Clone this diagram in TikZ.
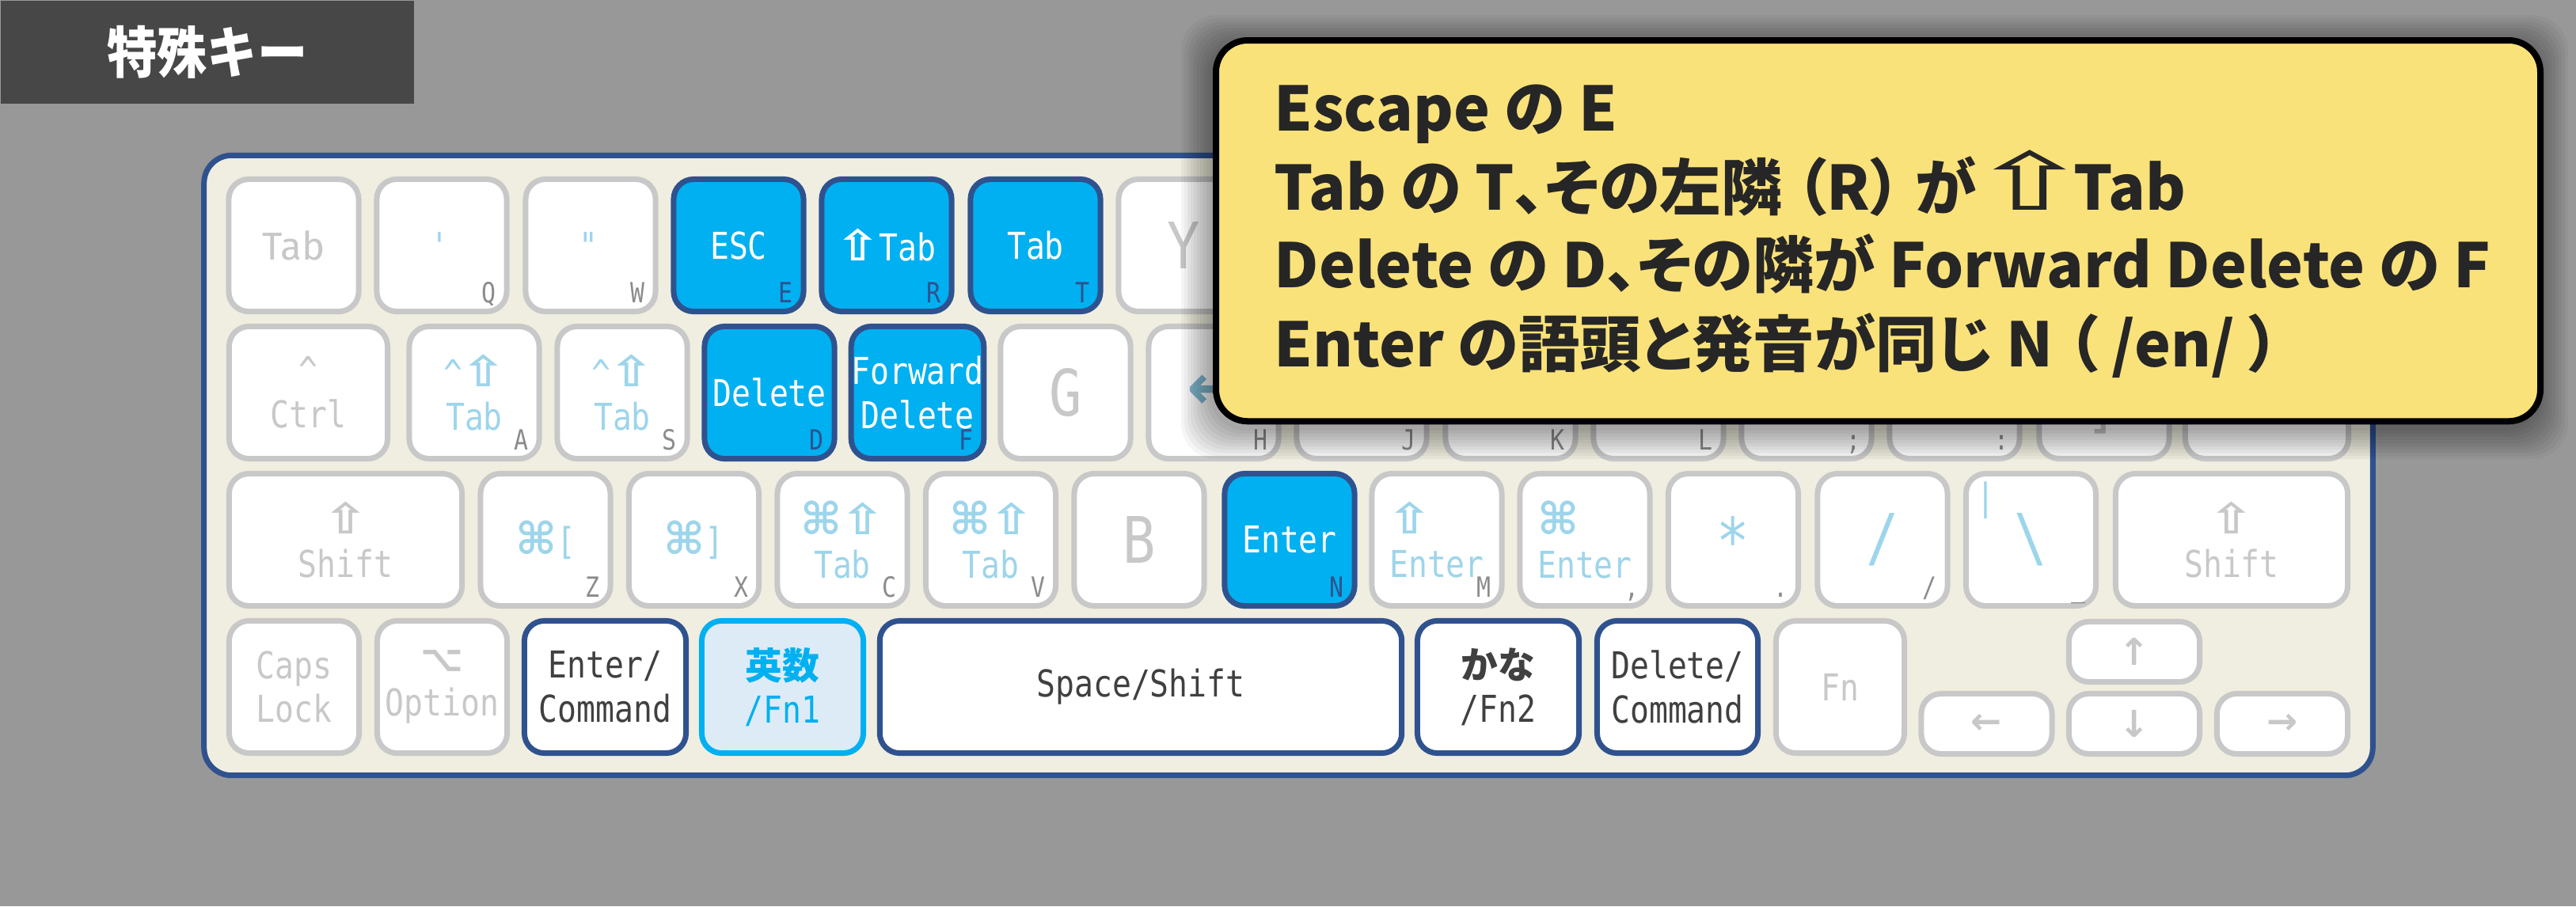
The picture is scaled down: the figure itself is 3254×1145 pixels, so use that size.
\documentclass[tikz,border=0pt]{standalone}
\usepackage{fontspec}
\usetikzlibrary{positioning, calc}
\setmainfont{DejaVu Sans}
\newfontfamily\keyfont[FakeStretch=0.85]{DejaVu Sans Mono}
\newfontfamily\symfont{DejaVu Sans}
\newfontfamily\jpfont{Noto Sans CJK JP}
\newfontfamily\jpnote[RawFeature=+palt]{Noto Sans CJK JP}
\newfontfamily\jptitle[FakeStretch=0.9]{Noto Sans CJK JP}
\newfontfamily\tabfont{Fira Sans}

\definecolor{bggray}{RGB}{152,152,152}
\definecolor{titlegray}{RGB}{71,71,71}
\definecolor{kbcream}{RGB}{240,238,224}
\definecolor{kbblue}{RGB}{47,82,143}
\definecolor{keyrim}{RGB}{200,200,200}
\definecolor{keygray}{RGB}{200,200,200}
\definecolor{cornergray}{RGB}{140,140,140}
\definecolor{hicyan}{RGB}{0,176,240}
\definecolor{paleblue}{RGB}{221,235,247}
\definecolor{labelblue}{RGB}{157,213,235}
\definecolor{arrowblue}{RGB}{128,184,208}
\definecolor{darktext}{RGB}{64,64,64}
\definecolor{noteyellow}{RGB}{250,226,122}
\definecolor{notetext}{RGB}{38,38,38}

\newcommand{\ks}[1]{{\symfont\bfseries #1}}
\newcommand{\sh}{\kern-0.05em\scalebox{1.45}[1.15]{\ks{⇧}}\kern-0.05em}
\newcommand{\cmd}{\scalebox{1.2}{\ks{⌘}}}

\begin{document}
\begin{tikzpicture}[x=0.01cm, y=-0.01cm,
    key/.style={draw=keyrim, fill=white, line width=0.07cm, rounded corners=0.25cm,
        minimum width=1.64cm, minimum height=1.67cm, inner sep=0pt, align=center,
        text=keygray, font=\keyfont\fontsize{13.3}{15.8}\selectfont},
    hikey/.style={key, draw=kbblue, fill=hicyan, text=white},
    modkey/.style={key, draw=kbblue, text=darktext},
    fnkey/.style={key, draw=hicyan, fill=paleblue, text=hicyan},
    bluekey/.style={key, text=labelblue},
    bigkey/.style={key, font=\keyfont\fontsize{23}{26}\selectfont},
    corner/.style={anchor=base east, inner sep=0pt, text=cornergray,
        font=\keyfont\fontsize{10}{12}\selectfont},
    hicorner/.style={corner, text=kbblue},
    notetxt/.style={anchor=base west, inner sep=0pt, text=notetext,
        font=\jpnote\bfseries\fontsize{22}{26}\selectfont}]

    \fill[bggray] (0,0) rectangle (3254,1145);
    \node[fill=titlegray, minimum width=5.22cm, minimum height=1.30cm, anchor=north west, inner sep=0pt,
        text=white, font=\jptitle\bfseries\fontsize{20}{24}\selectfont] (title) at (0,0) {特殊キー};

    % keyboard
    \node[draw=kbblue, fill=kbcream, line width=0.07cm, rounded corners=0.35cm,
        minimum width=27.38cm, minimum height=7.83cm] (board) at (1627.5,588) {};

    % row 1
    \node[key, font=\tabfont\fontsize{14}{16}\selectfont] (Tab) at (371,310) {Tab};
    \node[bluekey] (Q) at (558,310) {\textquotesingle};
    \node[bluekey] (W) at (746,310) {\textquotedbl};
    \node[hikey] (E) at (933,310) {ESC};
    \node[hikey] (R) at (1120,310) {\sh Tab};
    \node[hikey] (T) at (1308,310) {Tab};
    \node[bigkey] (Y) at (1495,310) {Y};

    % row 2
    \node[key, minimum width=2.00cm] (Ctrl) at (389.5,496) {\textasciicircum\\Ctrl};
    \node[bluekey] (A) at (599,496) {\textasciicircum\sh\\Tab};
    \node[bluekey] (S) at (786,496) {\textasciicircum\sh\\Tab};
    \node[hikey] (D) at (972,496) {Delete};
    \node[hikey] (F) at (1159,496) {Forward\\Delete};
    \node[bigkey] (G) at (1346,496) {G};
    \node[bigkey, text=arrowblue] (H) at (1533,496) {\ks{←}};
    \foreach \k/\x in {J/1720, K/1908, L/2095, semi/2282, colon/2469}
        \node[key] (\k) at (\x,496) {};
    \node[key] (rbr) at (2658,496) {};
    \node[key, minimum width=2.06cm] (wide) at (2863.5,496) {};
    \node[inner sep=0pt, text=keygray, font=\keyfont\fontsize{23}{26}\selectfont] (rbrlab)
        at ($(rbr.center)+(-3,16)$) {]};

    % row 3
    \node[key, minimum width=2.94cm] (LShift) at (436.5,682) {\sh\\Shift};
    \node[bluekey] (Z) at (689,682) {\cmd[};
    \node[bluekey] (X) at (876.5,682) {\cmd]};
    \node[bluekey] (C) at (1064,682) {\cmd\sh\\Tab};
    \node[bluekey] (V) at (1251.5,682) {\cmd\sh\\Tab};
    \node[bigkey] (B) at (1439,682) {B};
    \node[hikey] (N) at (1629,682) {Enter};
    \node[bluekey, align=left] (M) at (1815,682) {\sh\\Enter};
    \node[bluekey, align=left] (comma) at (2002,682) {\cmd\\Enter};
    \node[bigkey, text=labelblue] (dot) at (2189.5,682) {*};
    \node[bigkey, text=labelblue] (slash) at (2378,682) {/};
    \node[bigkey, text=labelblue] (bslash) at (2565.5,682) {\textbackslash};
    \node[text=labelblue, inner sep=0pt, font=\keyfont\fontsize{13.3}{16}\selectfont] (pipe)
        at ($(bslash.center)+(-57,-50)$) {|};
    \node[key, minimum width=2.93cm] (RShift) at (2819,682) {\sh\\Shift};

    % row 4
    \node[key] (Caps) at (371.5,868) {Caps\\Lock};
    \node[key] (Opt) at (558.5,868) {\ks{⌥}\\Option};
    \node[modkey, minimum width=2.04cm] (EnterCmd) at (764.5,868) {Enter/\\Command};
    \node[fnkey, minimum width=2.04cm] (Eisu) at (988.5,868) {{\jpfont\bfseries 英数}\\/Fn1};
    \node[modkey, minimum width=6.59cm] (Space) at (1441,868) {Space/Shift};
    \node[modkey, minimum width=2.04cm] (Kana) at (1892.5,868) {{\jpfont\bfseries かな}\\/Fn2};
    \node[modkey, minimum width=2.03cm] (DelCmd) at (2119,868) {Delete/\\Command};
    \node[key, minimum width=1.62cm] (Fn) at (2324.5,868) {Fn};
    \node[key, minimum width=1.65cm, minimum height=0.76cm] (Up) at (2696,823.5) {\ks{↑}};
    \node[key, minimum width=1.65cm, minimum height=0.76cm] (Left) at (2509.5,914.5) {\ks{←}};
    \node[key, minimum width=1.65cm, minimum height=0.76cm] (Down) at (2696,914.5) {\ks{↓}};
    \node[key, minimum width=1.65cm, minimum height=0.76cm] (Right) at (2883,914.5) {\ks{→}};

    % small letters
    \foreach \k in {Q, W, A, S, H, J, K, L, Z, X, C, V, M}
        \node[corner] (c\k) at ($(\k.south east)+(-16,-15)$) {\k};
    \foreach \k in {E, R, T, D, F, N}
        \node[hicorner] (c\k) at ($(\k.south east)+(-16,-15)$) {\k};
    \foreach \k/\c in {semi/;, colon/:, comma/{,}, dot/., slash/{/}, bslash/\_}
        \node[corner] (c\k) at ($(\k.south east)+(-16,-15)$) {\c};

    % note
    \foreach \s in {1,...,10}
        \fill[black, opacity=0.04, rounded corners=0.45cm]
            ({1532-4*\s},{47-4*\s+12}) rectangle ({3204+4*\s},{528+4*\s+12});
    \node[draw=black, fill=noteyellow, line width=0.08cm, rounded corners=0.4cm,
        minimum width=16.72cm, minimum height=4.81cm, anchor=north west] (note) at (1532,47) {};
    \node[notetxt] (l1) at (1609,165) {Escape の E};
    \node[notetxt] (l2) at (1609,265)
        {Tab の T、その左隣 （R） が \kern-0.35em\scalebox{2.4}[1.3]{{\symfont\mdseries ⇧}}\kern-0.3em Tab};
    \node[notetxt] (l3) at (1609,363) {Delete の D、その隣が Forward Delete の F};
    \node[notetxt] (l4) at (1609,463) {Enter の語頭と発音が同じ N （ /en/ ）};
\end{tikzpicture}
\end{document}
